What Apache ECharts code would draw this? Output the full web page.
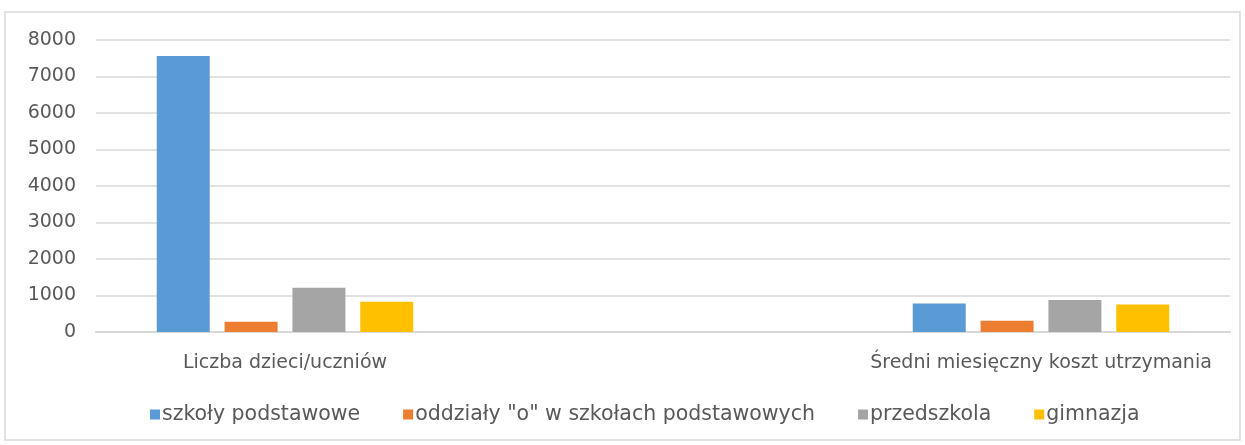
<!DOCTYPE html>
<html lang="pl">
<head>
<meta charset="utf-8">
<title>Wykres</title>
<script src="https://cdn.jsdelivr.net/npm/echarts@6/dist/echarts.min.js"></script>
<style>
    html, body { margin: 0; padding: 0; background: #fff; }
    #chart { width: 1245px; height: 445px; }
</style>
</head>
<body>
<div id="chart"></div>
<script>
    // kategorie (srodkowa pusta, jak w oryginale z Excela)
    var categories = ['Liczba dzieci/uczniów', '', 'Średni miesięczny koszt utrzymania'];
    var szkolyPodstawowe = [7560, null, 780];
    var oddzialyO = [280, null, 310];
    var przedszkola = [1215, null, 880];
    var gimnazja = [830, null, 755];
    var yTicks = [0, 8000, 1000]; // min, max, interval

    var font = 'DejaVu Sans';
    var txt = '#595959';

    var chart = echarts.init(document.getElementById('chart'));

    function bar(name, data, color) {
        return {
            name: name,
            type: 'bar',
            data: data,
            barWidth: 53,
            barGap: '28%',
            itemStyle: { color: color },
            emphasis: { disabled: true }
        };
    }

    var option = {
        animation: false,
        graphic: [{
            type: 'rect',
            shape: { x: 5, y: 12, width: 1235, height: 428 },
            style: { fill: 'none', stroke: '#d9d9d9', lineWidth: 1.5 },
            silent: true
        }],
        grid: { left: 96, right: 15, top: 40, bottom: 113 },
        legend: {
            bottom: 15,
            left: 145,
            itemWidth: 10,
            itemHeight: 10,
            itemGap: 43,
            icon: 'rect',
            textStyle: { fontFamily: font, fontSize: 20.5, color: txt, padding: [0, 0, 0, -3] },
            data: ['szkoły podstawowe', 'oddziały "o" w szkołach podstawowych', 'przedszkola', 'gimnazja']
        },
        xAxis: {
            type: 'category',
            data: categories,
            axisLine: { lineStyle: { color: '#d9d9d9', width: 2 } },
            axisTick: { show: false },
            axisLabel: { fontFamily: font, fontSize: 19, color: txt, margin: 22 }
        },
        yAxis: {
            type: 'value',
            min: yTicks[0],
            max: yTicks[1],
            interval: yTicks[2],
            axisLine: { show: false },
            axisTick: { show: false },
            splitLine: { lineStyle: { color: '#d9d9d9', width: 1.5 } },
            axisLabel: {
                fontFamily: font, fontSize: 19, color: txt, margin: 20,
                formatter: function (v) { return String(v); }
            }
        },
        series: [
            bar('szkoły podstawowe', szkolyPodstawowe, '#5b9bd5'),
            bar('oddziały "o" w szkołach podstawowych', oddzialyO, '#ed7d31'),
            bar('przedszkola', przedszkola, '#a5a5a5'),
            bar('gimnazja', gimnazja, '#ffc000')
        ]
    };

    chart.setOption(option);
</script>
</body>
</html>
